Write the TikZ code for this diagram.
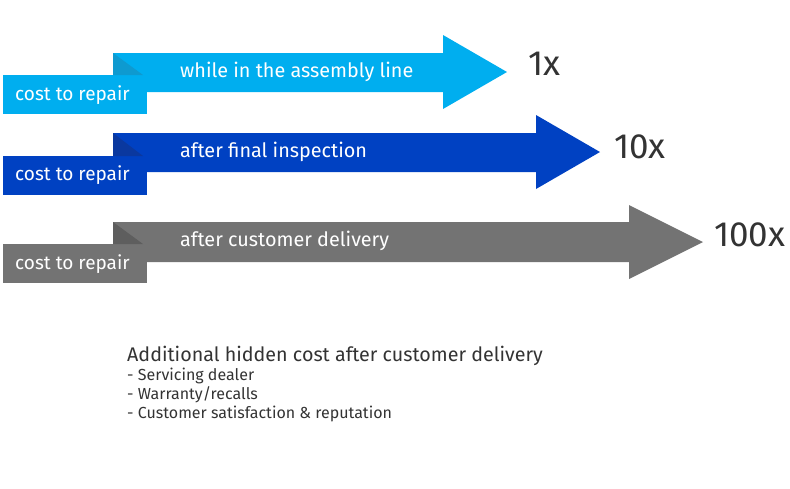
\documentclass[tikz,border=0pt]{standalone}
\usepackage{fontspec}
\setmainfont{Fira Sans}
\usepackage{tikz}
\definecolor{skyblue}{HTML}{00AEEF}
\definecolor{skyfold}{HTML}{0E9AD0}
\definecolor{royal}{HTML}{0041C2}
\definecolor{royalfold}{HTML}{0A389F}
\definecolor{slate}{HTML}{737373}
\definecolor{slatefold}{HTML}{5E5E5E}
\definecolor{ink}{HTML}{333333}

\begin{document}
\begin{tikzpicture}[x=1pt,y=-1pt,
	tag/.style={anchor=west,inner sep=0pt,text=white,font=\fontsize{19}{21}\selectfont},
	stage/.style={anchor=west,inner sep=0pt,text=white,font=\fontsize{19.8}{22}\selectfont},
	factor/.style={anchor=west,inner sep=0pt,text=ink,font=\fontsize{35}{38}\selectfont},
	note/.style={anchor=base west,inner sep=0pt,text=ink,font=\fontsize{16}{18}\selectfont}]
			\useasboundingbox (0,0) rectangle (790,488);
			% assembly line
			\fill[skyblue] (113,53) -- (443,53) -- (443,35) -- (507,72) -- (443,109) -- (443,92) -- (113,92) -- cycle;
			\fill[skyblue] (3,75) rectangle (147,114);
			\fill[skyfold] (113,53) -- (143,75) -- (113,75) -- cycle;
			\node[tag] (rep1) at (15,95) {cost to repair};
			\node[stage] (step1) at (180,72) {while in the assembly line};
			\node[factor] (fac1) at (528,64) {1x};
			
			% final inspection
			\fill[royal] (113,133) -- (536,133) -- (536,115) -- (600,152) -- (536,189) -- (536,172) -- (113,172) -- cycle;
			\fill[royal] (3,156) rectangle (147,195);
			\fill[royalfold] (113,133) -- (143,156) -- (113,156) -- cycle;
			\node[tag] (rep2) at (15,175) {cost to repair};
			\node[stage] (step2) at (180,152) {after final inspection};
			\node[factor] (fac2) at (614,147) {10x};
			
			% customer delivery
			\fill[slate] (113,222) -- (629,222) -- (629,205) -- (703,242) -- (629,279) -- (629,262) -- (113,262) -- cycle;
			\fill[slate] (3,244) rectangle (147,283);
			\fill[slatefold] (113,222) -- (143,244) -- (113,244) -- cycle;
			\node[tag] (rep3) at (15,264) {cost to repair};
			\node[stage] (step3) at (180,241) {after customer delivery};
			\node[factor] (fac3) at (714,235) {100x};
			
			% hidden cost
			\node[note,font=\fontsize{19.7}{22}\selectfont] (hidden) at (127,361) {Additional hidden cost after customer delivery};
			\node[note] (dealer) at (127,380) {- Servicing dealer};
			\node[note] (warranty) at (127,399) {- Warranty/recalls};
			\node[note] (reputation) at (127,418) {- Customer satisfaction \& reputation};
\end{tikzpicture}
\end{document}
